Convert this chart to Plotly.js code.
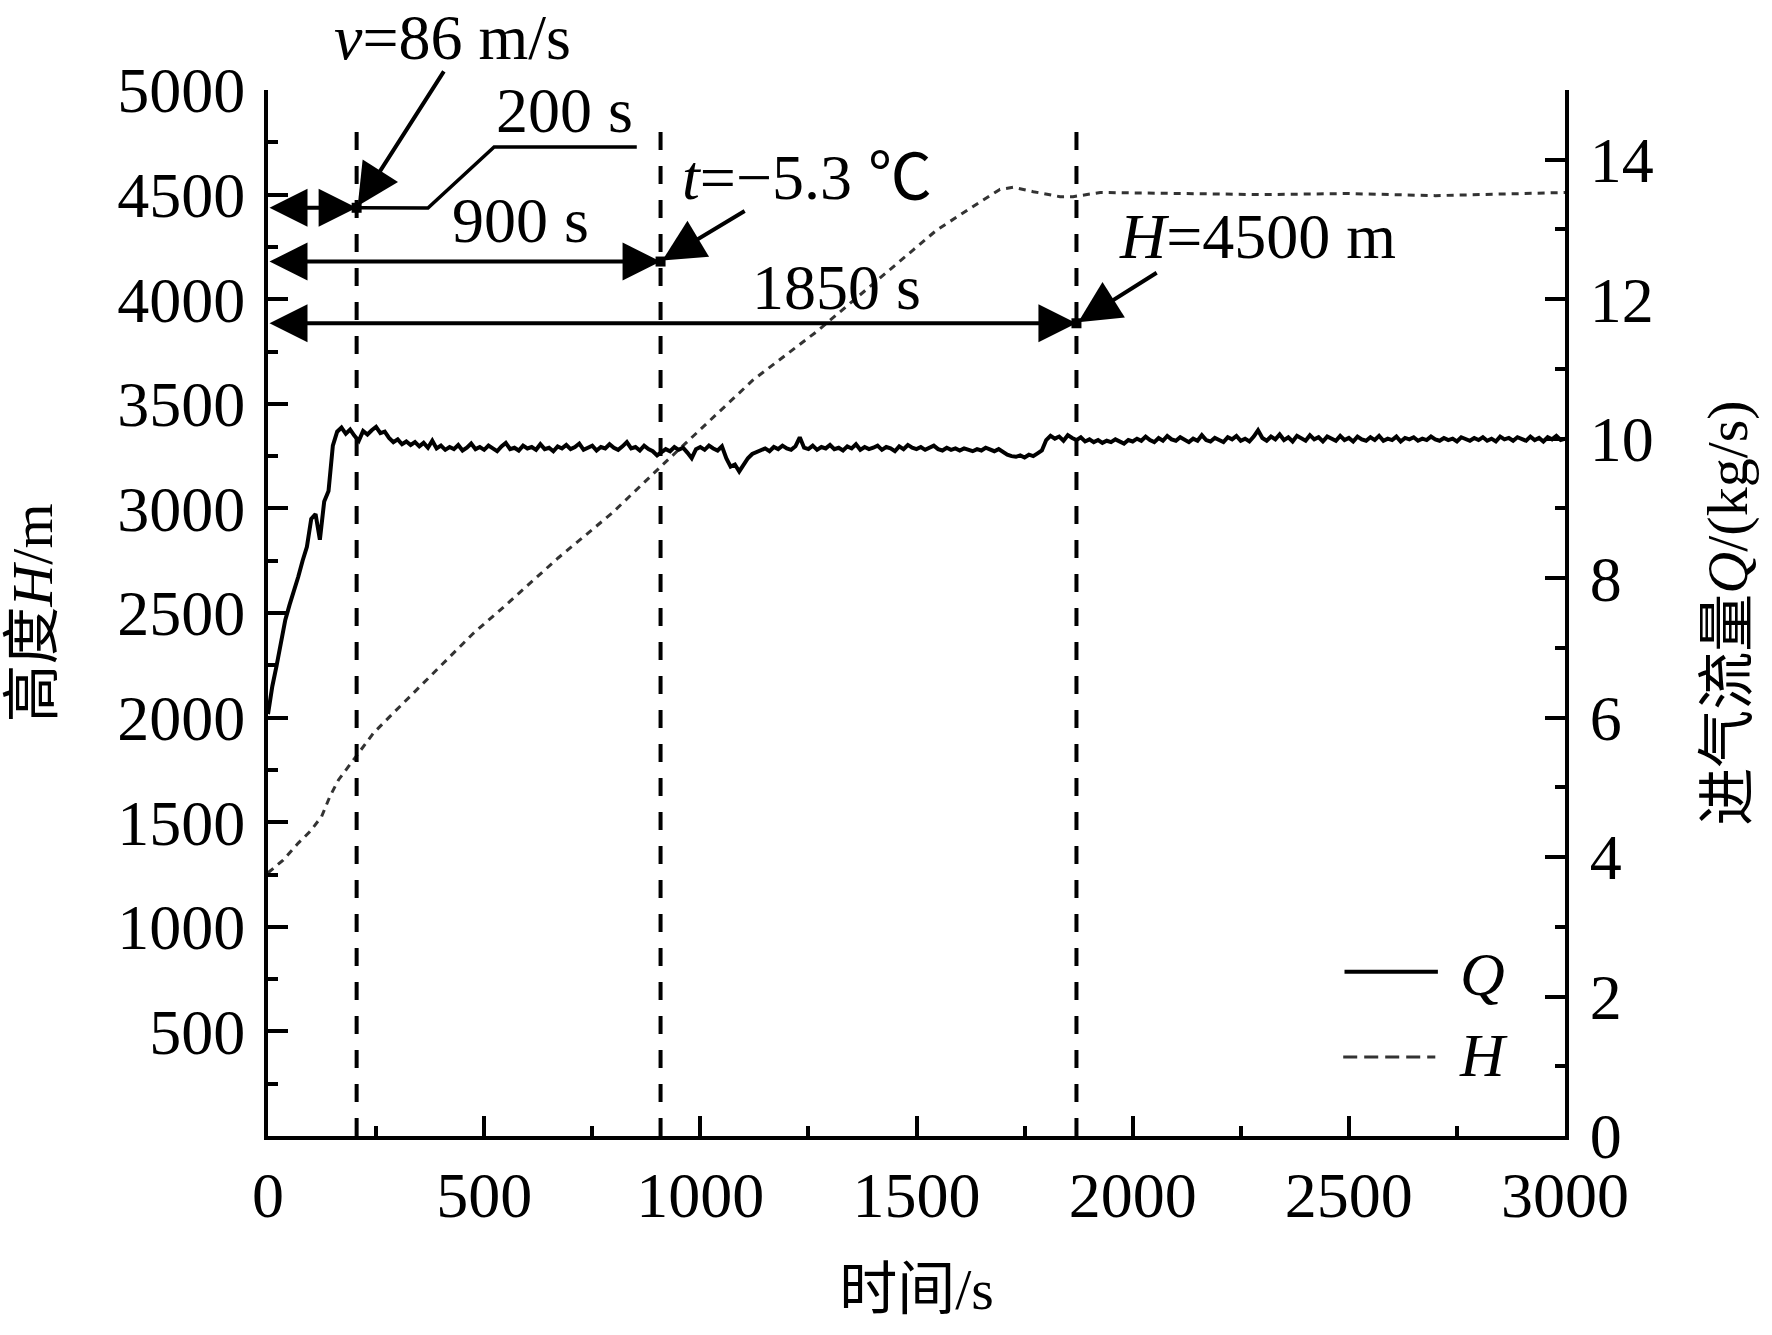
<!DOCTYPE html>
<html>
<head>
<meta charset="utf-8">
<script src="https://cdn.plot.ly/plotly-3.0.1.min.js"></script>
<style>
  html, body { margin: 0; padding: 0; background: #fff; }
  #chart { width: 1772px; height: 1335px; }
</style>
</head>
<body>
<div id="chart"></div>
<script>
// intake flow Q (kg/s), one reading every 10 s from 0 to 3000 s
const flowStart = 0;
const flowStep = 10;
const flowQ = [
  6.05, 6.45, 6.75, 7.05, 7.40, 7.62, 7.80, 8.02, 8.25, 8.45,
  8.85, 8.92, 8.55, 9.10, 9.25, 9.90, 10.10, 10.16, 10.07, 10.13,
  10.04, 9.97, 10.11, 10.06, 10.12, 10.17, 10.08, 10.10, 10.01, 9.95,
  9.99, 9.92, 9.96, 9.91, 9.95, 9.89, 9.94, 9.87, 9.97, 9.86,
  9.90, 9.84, 9.88, 9.85, 9.91, 9.83, 9.87, 9.93, 9.85, 9.88,
  9.84, 9.90, 9.86, 9.82, 9.89, 9.94, 9.85, 9.87, 9.83, 9.90,
  9.86, 9.88, 9.84, 9.92, 9.85, 9.87, 9.82, 9.89, 9.86, 9.91,
  9.85, 9.88, 9.93, 9.84, 9.87, 9.90, 9.83, 9.88, 9.86, 9.92,
  9.87, 9.84, 9.89, 9.95, 9.86, 9.88, 9.83, 9.90, 9.85, 9.82,
  9.76, 9.80, 9.85, 9.82, 9.88, 9.84, 9.87, 9.80, 9.72, 9.85,
  9.88, 9.84, 9.90, 9.86, 9.83, 9.89, 9.72, 9.60, 9.63, 9.53,
  9.62, 9.72, 9.78, 9.81, 9.83, 9.86, 9.82, 9.88, 9.85, 9.90,
  9.86, 9.84, 9.89, 10.02, 9.87, 9.85, 9.90, 9.84, 9.88, 9.86,
  9.91, 9.85, 9.87, 9.83, 9.89, 9.86, 9.92, 9.84, 9.88, 9.85,
  9.87, 9.90, 9.84, 9.88, 9.86, 9.82, 9.89, 9.85, 9.91, 9.87,
  9.85, 9.88, 9.84, 9.87, 9.90, 9.85, 9.83, 9.87, 9.84, 9.86,
  9.83, 9.86, 9.84, 9.82, 9.85, 9.83, 9.87, 9.84, 9.82, 9.85,
  9.81, 9.77, 9.75, 9.74, 9.76, 9.73, 9.77, 9.75, 9.79, 9.83,
  9.98, 10.04, 10.00, 10.03, 9.97, 10.05, 10.01, 9.98, 10.02, 9.96,
  9.99, 9.95, 9.98, 9.94, 9.97, 9.95, 9.99, 9.96, 9.93, 9.98,
  9.96, 10.00, 9.97, 10.03, 9.98, 9.95, 10.01, 9.97, 10.04, 9.99,
  9.97, 10.02, 9.98, 9.95, 10.00, 9.97, 10.05, 9.98, 9.96, 10.01,
  9.98, 9.95, 10.02, 9.99, 10.04, 9.97, 10.00, 9.96, 10.03, 10.12,
  10.01, 9.97, 10.03, 9.99, 10.06, 9.98, 10.02, 9.96, 10.04, 10.00,
  9.97, 10.05, 9.99, 10.02, 9.96, 10.03, 10.00, 9.97, 10.04, 9.98,
  10.01, 9.96, 10.03, 9.99, 9.97, 10.02, 9.98, 10.04, 9.97, 10.00,
  9.98, 10.03, 9.96, 10.01, 9.99, 10.02, 9.97, 10.00, 9.98, 10.03,
  9.99, 9.97, 10.01, 9.98, 10.00, 9.96, 10.02, 9.99, 9.97, 10.01,
  9.98, 10.02, 9.97, 10.00, 9.96, 10.03, 9.99, 10.01, 9.97, 10.02,
  9.99, 9.97, 10.03, 9.98, 10.01, 9.96, 10.02, 9.99, 10.04, 9.98,
  10.00
];

// altitude H (m)
const heightTime = [0, 35, 70, 97, 124, 143, 163, 186, 213, 244, 290, 352, 413, 475, 537,
  671, 795, 908, 1122, 1269, 1492, 1547, 1654, 1693, 1724, 1770, 1832, 1862, 1925, 2001,
  2117, 2300, 2500, 2700, 3000];
const heightH = [1258, 1319, 1400, 1455, 1527, 1622, 1702, 1766, 1838, 1926, 2022, 2148, 2276, 2403, 2514,
  2763, 2976, 3199, 3614, 3845, 4235, 4331, 4474, 4525, 4535, 4514, 4490, 4490, 4510, 4507,
  4505, 4500, 4505, 4495, 4510];

// marked instants (vertical guides) and the level of their span arrows
const markTime = [205, 908, 1870];
const markLevel = [4437, 4180, 3885];
const markTop = [4830, 4866, 4866];
const spanText = ["200 s", "900 s", "1850 s"];
const spanTextAt = [[685, 4904], [583, 4374], [1314, 4054]];
const noteText = ["<i>v</i>=86 m/s", "<i>t</i>=\u22125.3 \u2103", "<i>H</i>=4500 m"];
const noteTextAt = [[426, 5253], [1247, 4584], [2288, 4302]];
const noteTail = [[409, 5096], [1106, 4426], [2059, 4131]];
const legendNames = ["Q", "H"];

const leftTicks = [500, 1000, 1500, 2000, 2500, 3000, 3500, 4000, 4500, 5000];
const rightTicks = [0, 2, 4, 6, 8, 10, 12, 14];

const FONT = "'Liberation Serif', 'Times New Roman', 'Noto Sans CJK SC', serif";
const INK = "#000";
const H_MAX = 5000;

const traces = [
  {
    name: "Q", x0: flowStart, dx: flowStep, y: flowQ, yaxis: "y2",
    type: "scatter", mode: "lines",
    line: { color: INK, width: 4 }
  },
  {
    name: "H", x: heightTime, y: heightH, yaxis: "y",
    type: "scatter", mode: "lines",
    line: { color: "#333", width: 3, dash: "7px,6px" }
  },
  {
    name: "marks", x: markTime, y: markLevel, yaxis: "y",
    type: "scatter", mode: "markers", cliponaxis: false,
    marker: { symbol: "square", size: 10, color: INK }
  }
];

const shapes = markTime.map((t, i) => ({
  type: "line", xref: "x", yref: "y", x0: t, x1: t, y0: 0, y1: markTop[i],
  line: { color: INK, width: 4, dash: "18px,16px" }
}));
// leader under "200 s"
shapes.push({
  type: "path", xref: "x", yref: "y",
  path: "M853,4728 L523,4728 L370,4436 L" + markTime[0] + "," + markLevel[0],
  line: { color: INK, width: 3.5 }
});
// legend samples
shapes.push({ type: "line", xref: "paper", yref: "paper", x0: 0.830, x1: 0.902, y0: 0.157, y1: 0.157,
  line: { color: INK, width: 4 } });
shapes.push({ type: "line", xref: "paper", yref: "paper", x0: 0.829, x1: 0.900, y0: 0.0755, y1: 0.0755,
  line: { color: "#333", width: 3, dash: "14px,7px" } });

const annotations = [];
markTime.forEach((t, i) => {
  annotations.push({
    xref: "x", yref: "y", axref: "x", ayref: "y",
    x: t, y: markLevel[i], ax: 0, ay: markLevel[i], text: "",
    showarrow: true, arrowside: "end+start", arrowhead: 2, startarrowhead: 2,
    arrowsize: 1.9, startarrowsize: 1.9, arrowwidth: 4, arrowcolor: INK,
    standoff: 0, startstandoff: 0
  });
  annotations.push({
    xref: "x", yref: "y", x: spanTextAt[i][0], y: spanTextAt[i][1],
    text: spanText[i], showarrow: false, xanchor: "center", yanchor: "middle",
    font: { family: FONT, size: 64, color: INK }
  });
  annotations.push({
    xref: "x", yref: "y", axref: "x", ayref: "y",
    x: t, y: markLevel[i], ax: noteTail[i][0], ay: noteTail[i][1], text: "",
    showarrow: true, arrowhead: 2, arrowsize: 2.1, arrowwidth: 4, arrowcolor: INK, standoff: 2
  });
  // text above the plot top must be placed on paper, data refs out of range are hidden
  const above = noteTextAt[i][1] > H_MAX;
  annotations.push({
    xref: "x", yref: above ? "paper" : "y", x: noteTextAt[i][0],
    y: above ? noteTextAt[i][1] / H_MAX : noteTextAt[i][1],
    text: noteText[i], showarrow: false, xanchor: "center", yanchor: "middle",
    font: { family: FONT, size: 64, color: INK }
  });
});
// legend labels, one block of two lines
annotations.push({
  xref: "paper", yref: "paper", x: 0.9165, y: 0.1165,
  text: legendNames.map((n) => "<i>" + n + "</i>").join("<br>"),
  showarrow: false, xanchor: "left", yanchor: "middle", align: "left",
  font: { family: FONT, size: 62, color: INK }
});

const axisBase = {
  showgrid: false, zeroline: false, showline: true, linecolor: INK, linewidth: 4,
  ticks: "inside", ticklen: 20, tickwidth: 4, tickcolor: INK,
  tickfont: { family: FONT, size: 64, color: INK }
};

const layout = {
  width: 1772, height: 1335,
  margin: { l: 268, r: 207, t: 90, b: 199 },
  paper_bgcolor: "#fff", plot_bgcolor: "#fff",
  showlegend: false,
  xaxis: Object.assign({}, axisBase, {
    range: [0, 3000], tickmode: "linear", tick0: 0, dtick: 500,
    ticklabelstandoff: 0,
    minor: { ticks: "inside", ticklen: 10, tickwidth: 4, tickcolor: INK, tick0: 0, dtick: 250, showgrid: false },
    title: { text: "时间/s", font: { family: FONT, size: 58, color: INK }, standoff: 40 }
  }),
  yaxis: Object.assign({}, axisBase, {
    range: [0, H_MAX], tickmode: "array", tickvals: leftTicks,
    ticklabelstandoff: 6,
    minor: { ticks: "inside", ticklen: 10, tickwidth: 4, tickcolor: INK, tick0: 0, dtick: 250, showgrid: false },
    title: { text: "高度<i>H</i>/m", font: { family: FONT, size: 58, color: INK }, standoff: 48 }
  }),
  yaxis2: Object.assign({}, axisBase, {
    overlaying: "y", side: "right", range: [0, 15], tickmode: "array", tickvals: rightTicks,
    ticklabelstandoff: 8,
    minor: { ticks: "inside", ticklen: 10, tickwidth: 4, tickcolor: INK, tick0: 0, dtick: 1, showgrid: false },
    title: { text: "进气流量<i>Q</i>/(kg/s)", font: { family: FONT, size: 58, color: INK }, standoff: 55 }
  }),
  shapes: shapes,
  annotations: annotations
};

Plotly.newPlot("chart", traces, layout, { displayModeBar: false, staticPlot: true });
</script>
</body>
</html>
